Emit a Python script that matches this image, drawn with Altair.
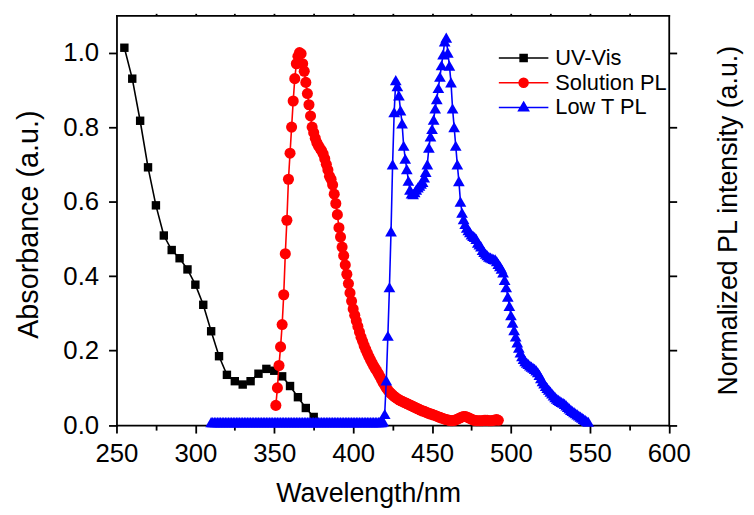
import altair as alt
import pandas as pd

FONT = "Liberation Sans"

# ---------------- data ----------------
series_names = ["UV-Vis", "Solution PL", "Low T PL"]
series_colors = ["#000000", "#ff0000", "#0000ff"]

uv_wl = [255, 260, 265, 270, 275, 280, 285, 290, 295, 300, 305, 310, 315,
         320, 325, 330, 335, 340, 345, 350, 355, 360, 365, 370, 375]
uv_abs = [1.013, 0.930, 0.817, 0.692, 0.590, 0.509, 0.470, 0.448, 0.418,
          0.377, 0.323, 0.252, 0.185, 0.135, 0.118, 0.109, 0.118, 0.138,
          0.151, 0.146, 0.131, 0.105, 0.075, 0.046, 0.022]

sol_start = 351  # nm, 1 nm steps
sol_pl = [
    0.053, 0.100, 0.160, 0.210, 0.270, 0.350, 0.460, 0.550, 0.660, 0.730,   # 351-360
    0.800, 0.870, 0.930, 0.970, 0.990, 1.000, 0.997, 0.970, 0.950, 0.920,   # 361-370
    0.890, 0.860, 0.830, 0.800, 0.785, 0.770, 0.758, 0.750, 0.743, 0.737,   # 371-380
    0.728, 0.715, 0.700, 0.685, 0.668, 0.660, 0.645, 0.620, 0.595, 0.565,   # 381-390
    0.530, 0.505, 0.478, 0.455, 0.430, 0.405, 0.380, 0.355, 0.333, 0.312,   # 391-400
    0.295, 0.280, 0.265, 0.250, 0.236, 0.225, 0.213, 0.203, 0.193, 0.184,   # 401-410
    0.175, 0.167, 0.159, 0.152, 0.145, 0.138, 0.130, 0.122, 0.114, 0.107,   # 411-420
    0.100, 0.094, 0.089, 0.085, 0.081, 0.077, 0.074, 0.071, 0.068, 0.066,   # 421-430
    0.064, 0.062, 0.060, 0.058, 0.056, 0.054, 0.052, 0.050, 0.048, 0.046,   # 431-440
    0.044, 0.042, 0.040, 0.038, 0.037, 0.035, 0.033, 0.032, 0.030, 0.029,   # 441-450
    0.027, 0.026, 0.024, 0.022, 0.021, 0.019, 0.018, 0.016, 0.015, 0.014,   # 451-460
    0.013, 0.012, 0.012, 0.013, 0.014, 0.016, 0.018, 0.020, 0.022, 0.023,   # 461-470
    0.023, 0.022, 0.020, 0.018, 0.016, 0.014, 0.013, 0.012, 0.012, 0.012,   # 471-480
    0.012, 0.012, 0.013, 0.013, 0.013, 0.012, 0.012, 0.012, 0.013, 0.014,   # 481-490
    0.015, 0.013,                                                           # 491-492
]

lowt_start = 310  # nm, 1 nm steps
lowt_pl = [
    0.008, 0.008, 0.008, 0.008, 0.008, 0.008, 0.008, 0.008, 0.008, 0.008,   # 310-319
    0.008, 0.008, 0.008, 0.008, 0.008, 0.008, 0.008, 0.008, 0.008, 0.008,   # 320-329
    0.008, 0.008, 0.008, 0.008, 0.008, 0.008, 0.008, 0.008, 0.008, 0.008,   # 330-339
    0.008, 0.008, 0.008, 0.008, 0.008, 0.008, 0.008, 0.008, 0.008, 0.008,   # 340-349
    0.008, 0.008, 0.008, 0.008, 0.008, 0.008, 0.008, 0.008, 0.008, 0.008,   # 350-359
    0.008, 0.008, 0.008, 0.008, 0.008, 0.008, 0.008, 0.008, 0.008, 0.008,   # 360-369
    0.008, 0.008, 0.008, 0.008, 0.008, 0.008, 0.008, 0.008, 0.008, 0.008,   # 370-379
    0.008, 0.008, 0.008, 0.008, 0.008, 0.008, 0.008, 0.008, 0.008, 0.008,   # 380-389
    0.008, 0.008, 0.008, 0.008, 0.008, 0.008, 0.008, 0.008, 0.008, 0.008,   # 390-399
    0.008, 0.008, 0.008, 0.008, 0.008, 0.008, 0.008, 0.008, 0.008, 0.008,   # 400-409
    0.008, 0.008, 0.008, 0.008, 0.008, 0.008, 0.008, 0.008, 0.008, 0.010,   # 410-419
    0.030, 0.120, 0.240, 0.370, 0.520, 0.700, 0.840, 0.926, 0.910, 0.885,   # 420-429
    0.845, 0.810, 0.750, 0.715, 0.687, 0.656, 0.632, 0.622, 0.620, 0.625,   # 430-439
    0.632, 0.638, 0.643, 0.648, 0.653, 0.665, 0.680, 0.700, 0.745, 0.775,   # 440-449
    0.795, 0.820, 0.850, 0.875, 0.905, 0.935, 0.966, 0.995, 1.030, 1.040,   # 450-459
    1.000, 0.965, 0.920, 0.850, 0.800, 0.750, 0.700, 0.655, 0.600, 0.570,   # 460-469
    0.553, 0.540, 0.530, 0.523, 0.518, 0.512, 0.508, 0.505, 0.500, 0.490,   # 470-479
    0.485, 0.480, 0.470, 0.465, 0.460, 0.456, 0.452, 0.450, 0.448, 0.446,   # 480-489
    0.445, 0.440, 0.433, 0.427, 0.420, 0.410, 0.390, 0.370, 0.345, 0.320,   # 490-499
    0.295, 0.275, 0.255, 0.238, 0.222, 0.208, 0.195, 0.185, 0.178, 0.172,   # 500-509
    0.168, 0.164, 0.160, 0.157, 0.154, 0.151, 0.147, 0.142, 0.135, 0.126,   # 510-519
    0.118, 0.112, 0.105, 0.100, 0.095, 0.090, 0.085, 0.080, 0.075, 0.071,   # 520-529
    0.068, 0.065, 0.062, 0.060, 0.057, 0.053, 0.049, 0.045, 0.041, 0.038,   # 530-539
    0.035, 0.032, 0.029, 0.026, 0.023, 0.020, 0.017, 0.014, 0.011, 0.009,   # 540-549
]

x_major = [250, 300, 350, 400, 450, 500, 550, 600]
x_minor = [275, 325, 375, 425, 475, 525, 575]
x_top = [275, 300, 325, 350, 375, 400, 425, 450, 475, 500, 525, 550, 575]
y_ticks = [0.0, 0.2, 0.4, 0.6, 0.8, 1.0]

# ---------------- tables ----------------
df_uv = pd.DataFrame({"wl": uv_wl, "val": uv_abs, "series": series_names[0]})
df_sol = pd.DataFrame({"wl": [sol_start + i for i in range(len(sol_pl))],
                       "val": sol_pl, "series": series_names[1]})
df_lt = pd.DataFrame({"wl": [lowt_start + i for i in range(len(lowt_pl))],
                      "val": lowt_pl, "series": series_names[2]})
df_all = pd.concat([df_uv, df_sol, df_lt], ignore_index=True)

# ---------------- layout ----------------
PLOT_W = 557.5
PLOT_H = 413.7
AX_W = 1.8

xs = alt.Scale(domain=[250, 600], nice=False, zero=False)
ys = alt.Scale(domain=[0, 1.1], nice=False, zero=False)

ax_bottom = alt.Axis(orient="bottom", values=x_major, format="d", tickSize=8,
                     labelPadding=8, labelFontSize=26, labelFlush=False,
                     title="Wavelength/nm",
                     titleFontSize=27, titleX=254, titleY=56, titleBaseline="top",
                     titleAlign="center", domain=True)
ax_bottom_minor = alt.Axis(orient="bottom", values=x_minor, tickSize=5,
                           labels=False, title=None, domain=False)
ax_top = alt.Axis(orient="top", values=x_top, tickSize=2, labels=False,
                  title=None, domain=True)
ax_left = alt.Axis(orient="left", values=y_ticks, format=".1f", tickSize=8,
                   labelPadding=10, labelFontSize=26, labelFlush=False,
                   title="Absorbance (a.u.)", titleFontSize=29,
                   titleX=-89, titleY=PLOT_H / 2 + 4, titleAngle=270,
                   titleBaseline="middle", titleAlign="center")
ax_right = alt.Axis(orient="right", values=y_ticks, tickSize=8, labels=False,
                    title="Normalized PL intensity (a.u.)", titleFontSize=27,
                    titleX=47, titleY=PLOT_H / 2, titleAngle=270,
                    titleBaseline="top", titleAlign="center")


def xenc(axis):
    return alt.X("wl:Q", scale=xs, axis=axis, title=None)


def yenc(axis):
    return alt.Y("val:Q", scale=ys, axis=axis, title=None)


line_uv = alt.Chart(df_uv).mark_line(color=series_colors[0], strokeWidth=1.6).encode(
    x=xenc(ax_bottom), y=yenc(ax_left))
pts_uv = alt.Chart(df_uv).mark_point(shape="square", filled=True, size=72,
                                     color=series_colors[0], opacity=1).encode(
    x=xenc(ax_bottom_minor), y=yenc(ax_right))
line_sol = alt.Chart(df_sol).mark_line(color=series_colors[1], strokeWidth=1.6).encode(
    x=xenc(ax_top), y=yenc(None))
pts_sol = alt.Chart(df_sol).mark_point(shape="circle", filled=True, size=125,
                                       color=series_colors[1], opacity=1).encode(
    x=xenc(None), y=yenc(None))
line_lt = alt.Chart(df_lt).mark_line(color=series_colors[2], strokeWidth=1.6).encode(
    x=xenc(None), y=yenc(None))
pts_lt = alt.Chart(df_lt).mark_point(shape="triangle-up", filled=True, size=140,
                                     color=series_colors[2], opacity=1).encode(
    x=xenc(None), y=yenc(None))

# legend symbols: a line segment with the marker in the middle
legend_paths = [
    "M-5,0H5M-0.7,-0.7H0.7V0.7H-0.7Z",
    "M-5,0H5M-0.9,0A0.9,0.9,0,1,1,0.9,0A0.9,0.9,0,1,1,-0.9,0Z",
    "M-5,0H5M0,-1.05L1,0.65H-1Z",
]
leg = dict(title=None, orient="none", legendX=400, legendY=32, labelFont=FONT,
           labelFontSize=22, labelColor="black", symbolSize=100,
           symbolStrokeWidth=1.6, labelOffset=21, rowPadding=3, padding=0,
           labelBaseline="middle")
legend_layer = alt.Chart(df_all).transform_filter("datum.val > 100").mark_point(
    filled=True, opacity=1).encode(
    x=xenc(None), y=yenc(None),
    color=alt.Color("series:N", scale=alt.Scale(domain=series_names, range=series_colors),
                    legend=alt.Legend(**leg)),
    stroke=alt.Stroke("series:N", scale=alt.Scale(domain=series_names, range=series_colors),
                      legend=alt.Legend(**leg)),
    shape=alt.Shape("series:N", scale=alt.Scale(domain=series_names, range=legend_paths),
                    legend=alt.Legend(**leg)),
)

chart = alt.layer(line_uv, pts_uv, line_sol, pts_sol, line_lt, pts_lt, legend_layer).resolve_axis(
    x="independent", y="independent"
).properties(
    width=PLOT_W, height=PLOT_H,
    autosize=alt.AutoSizeParams(type="none"),
    padding={"left": 109.5, "top": 5, "right": 78, "bottom": 88},
    background="white",
).configure_view(stroke=None).configure_axis(
    grid=False, labelFont=FONT, titleFont=FONT, labelColor="black", titleColor="black",
    titleFontWeight="normal", tickColor="black", domainColor="black",
    domainWidth=AX_W, tickWidth=AX_W, domainCap="square",
)

chart.save("out.html", embed_options={"renderer": "svg", "actions": False})
